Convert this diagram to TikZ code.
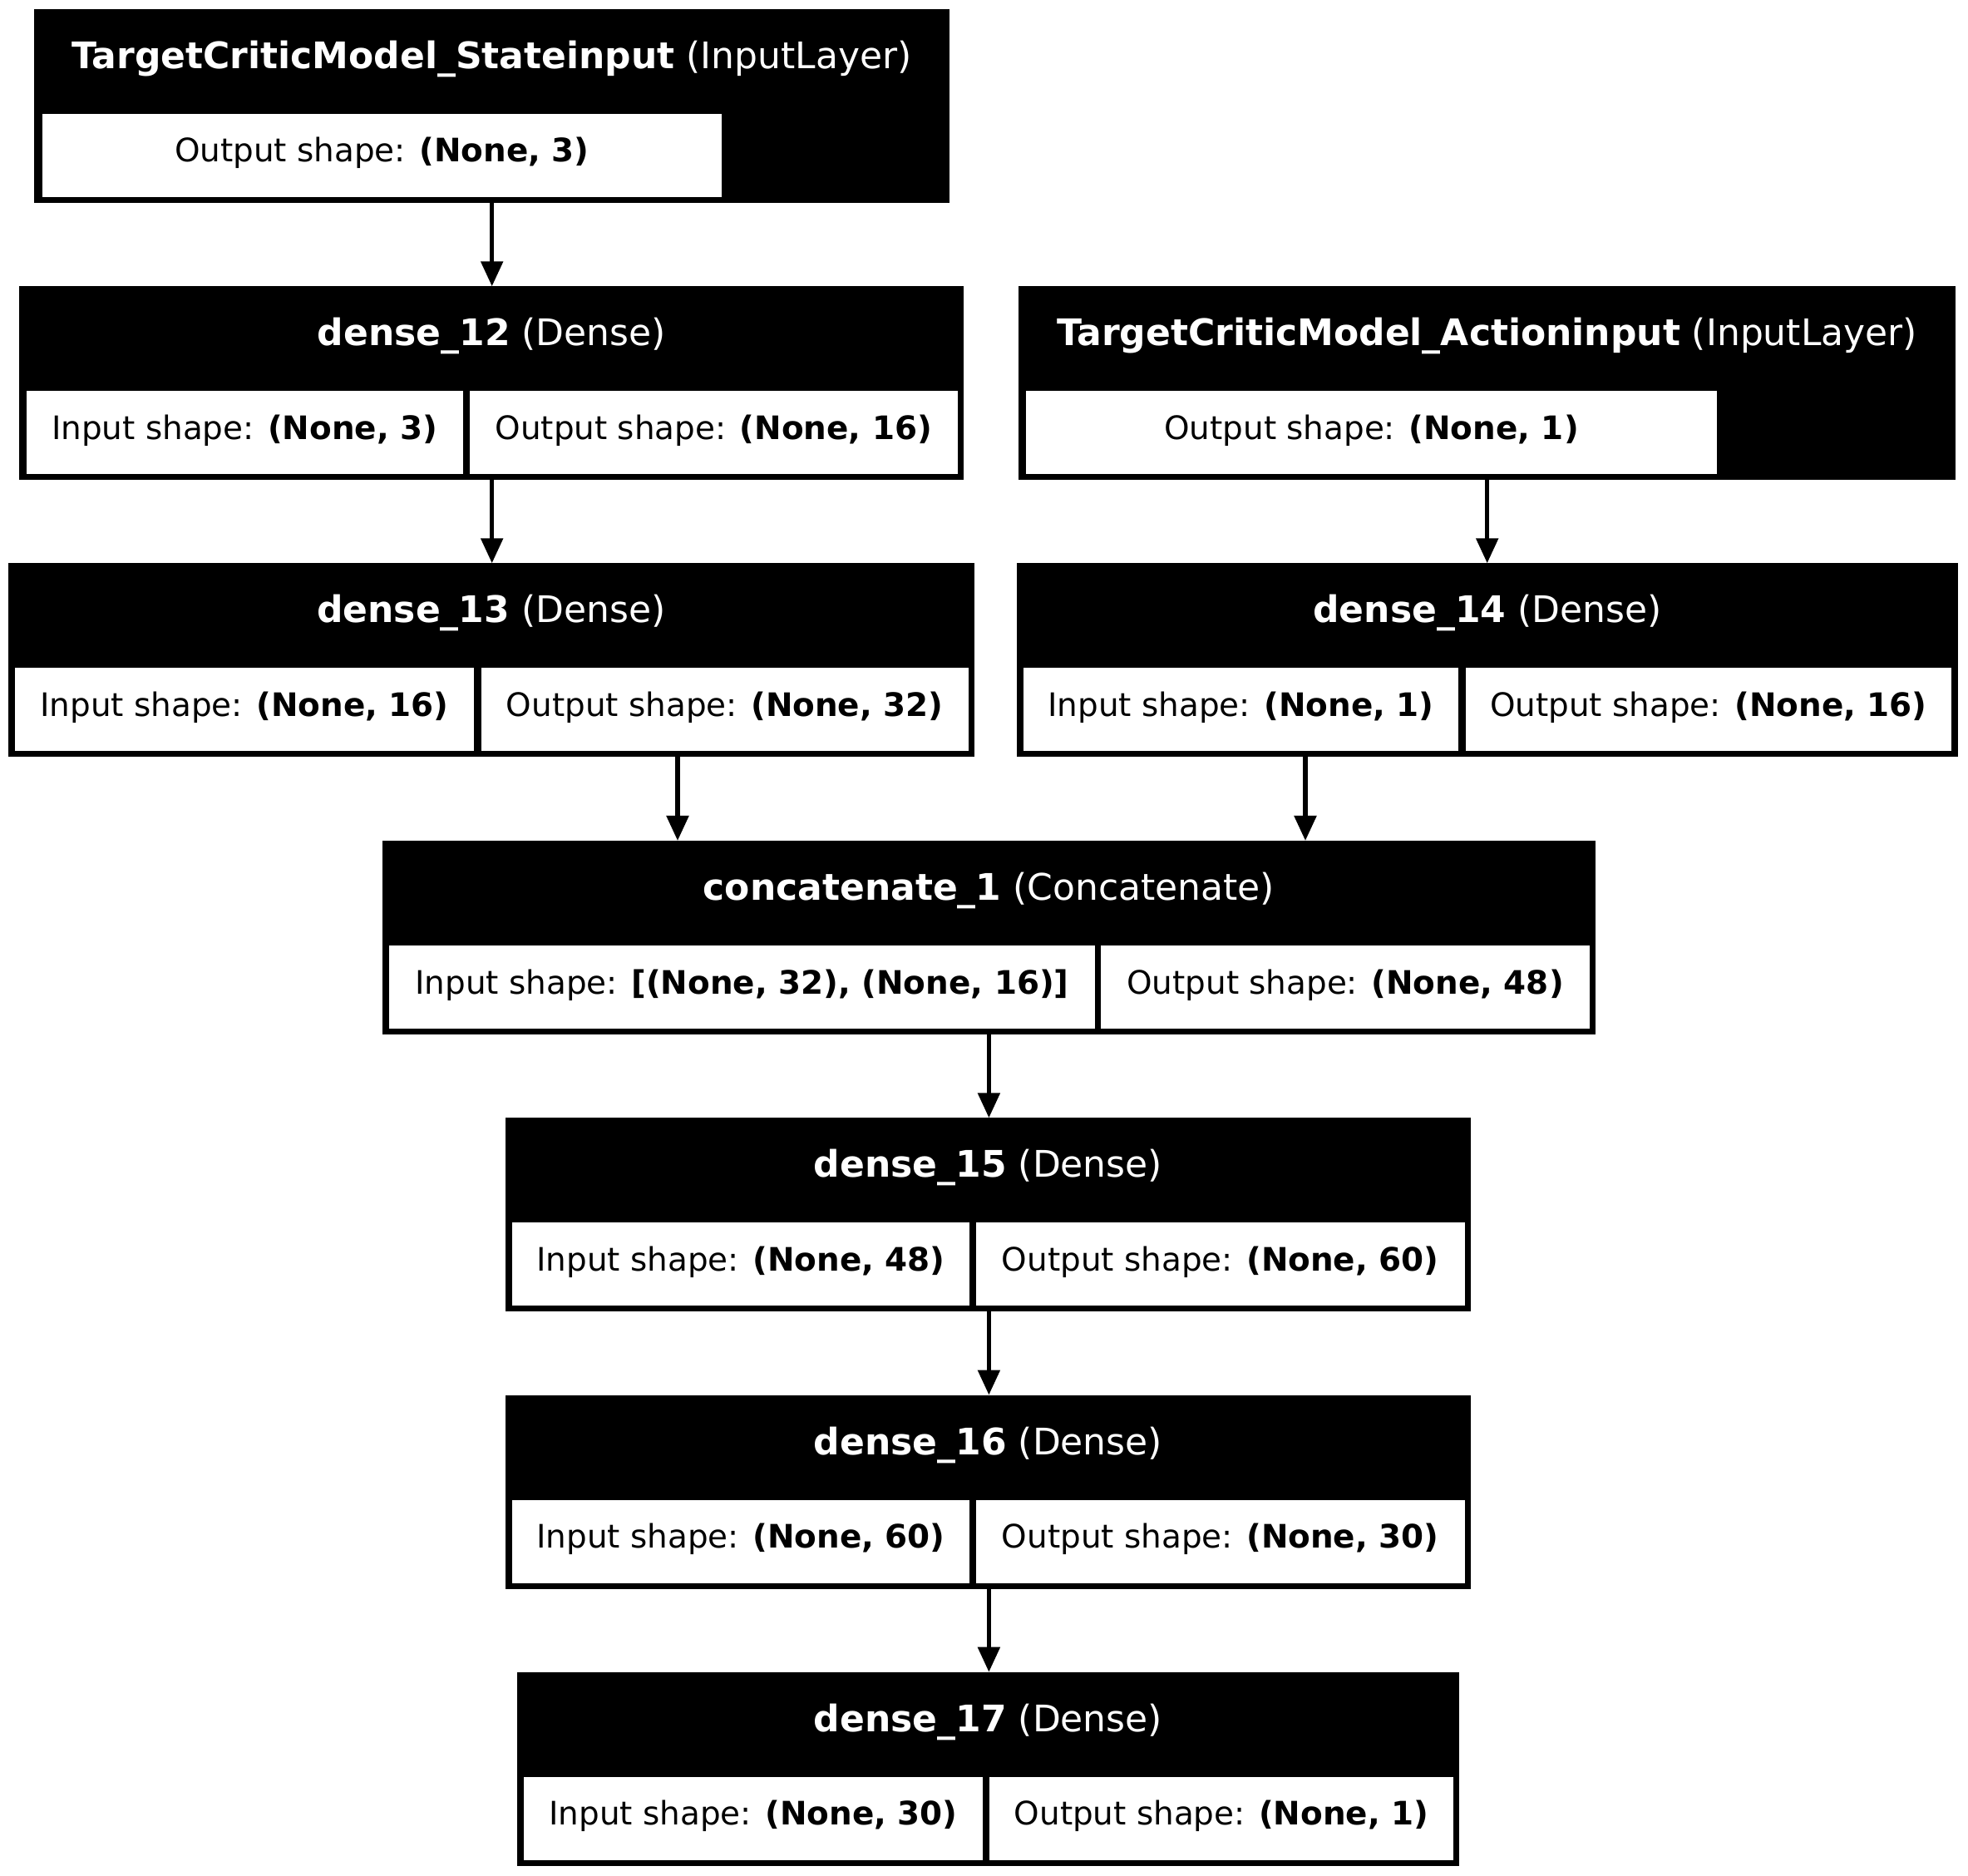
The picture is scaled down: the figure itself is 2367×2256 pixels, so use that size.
\documentclass[tikz,border=0pt]{standalone}
\usepackage{fontspec}
\setmainfont{DejaVu Sans}
\usetikzlibrary{arrows.meta,calc}
\tikzset{
  boxbg/.style={fill=black, draw=none, inner sep=0pt, outer sep=0pt, anchor=north west},
  cellbg/.style={fill=white, draw=none, inner sep=0pt, outer sep=0pt, anchor=north west},
  headtext/.style={text=white, font=\fontsize{11}{13}\selectfont, inner sep=0pt, anchor=base},
  celltext/.style={text=black, font=\fontsize{9.72}{12}\selectfont, inner sep=0pt, anchor=base},
  arr/.style={line width=1.33pt, -{Triangle[length=7.5pt,width=6.5pt]}},
}
% #1 name, #2 left, #3 right, #4 top
\newcommand\mkbox[4]{%
  \node[boxbg, minimum width={(#3-#2)*0.25pt}, minimum height={233*0.25pt}] (#1) at (#2,#4) {};
}
% #1 name, #2 left, #3 right, #4 box top, #5 text
\newcommand\mkcell[5]{%
  \node[cellbg, minimum width={(#3-#2)*0.25pt}, minimum height={100*0.25pt}] (#1) at (#2,#4+126) {};
  \node[celltext] (#1-t) at ({(#2+#3)/2},#4+184) {#5};
}
% #1 name, #2 center x, #3 top, #4 text
\newcommand\mkhead[4]{%
  \node[headtext] (#1) at (#2,#3+71.5) {#4};
}
\begin{document}
\begin{tikzpicture}[x=0.25pt, y=-0.25pt]
\fill[white] (0,0) rectangle (2367,2256);
\useasboundingbox (0,0) rectangle (2367,2256);

% TargetCriticModel_Stateinput
\mkbox{sin}{41.3}{1141.7}{11}
\mkhead{sin-h}{591.5}{11}{\textbf{TargetCriticModel\_Stateinput} (InputLayer)}
\mkcell{sin-o}{51}{867.7}{11}{Output shape: \textbf{(None, 3)}}

% dense_12
\mkbox{d12}{23.3}{1159.3}{344.3}
\mkhead{d12-h}{591.3}{344.3}{\textbf{dense\_12} (Dense)}
\mkcell{d12-i}{31.7}{556.7}{344.3}{Input shape: \textbf{(None, 3)}}
\mkcell{d12-o}{565}{1151.7}{344.3}{Output shape: \textbf{(None, 16)}}

% TargetCriticModel_Actioninput
\mkbox{ain}{1225}{2352}{344.3}
\mkhead{ain-h}{1788.5}{344.3}{\textbf{TargetCriticModel\_Actioninput} (InputLayer)}
\mkcell{ain-o}{1234}{2065}{344.3}{Output shape: \textbf{(None, 1)}}

% dense_13
\mkbox{d13}{9.6}{1172}{677.3}
\mkhead{d13-h}{590.8}{677.3}{\textbf{dense\_13} (Dense)}
\mkcell{d13-i}{18}{570}{677.3}{Input shape: \textbf{(None, 16)}}
\mkcell{d13-o}{579}{1164.5}{677.3}{Output shape: \textbf{(None, 32)}}

% dense_14
\mkbox{d14}{1222.8}{2355}{677.3}
\mkhead{d14-h}{1788.9}{677.3}{\textbf{dense\_14} (Dense)}
\mkcell{d14-i}{1231}{1754}{677.3}{Input shape: \textbf{(None, 1)}}
\mkcell{d14-o}{1762.7}{2347}{677.3}{Output shape: \textbf{(None, 16)}}

% concatenate_1
\mkbox{cat}{459.5}{1919.3}{1011}
\mkhead{cat-h}{1189.4}{1011}{\textbf{concatenate\_1} (Concatenate)}
\mkcell{cat-i}{468}{1317}{1011}{Input shape: \textbf{[(None, 32), (None, 16)]}}
\mkcell{cat-o}{1324}{1912}{1011}{Output shape: \textbf{(None, 48)}}

% dense_15
\mkbox{d15}{608}{1769}{1344.3}
\mkhead{d15-h}{1188.5}{1344.3}{\textbf{dense\_15} (Dense)}
\mkcell{d15-i}{616}{1166}{1344.3}{Input shape: \textbf{(None, 48)}}
\mkcell{d15-o}{1174}{1761.5}{1344.3}{Output shape: \textbf{(None, 60)}}

% dense_16
\mkbox{d16}{608}{1769}{1677.5}
\mkhead{d16-h}{1188.5}{1677.5}{\textbf{dense\_16} (Dense)}
\mkcell{d16-i}{616}{1166}{1677.5}{Input shape: \textbf{(None, 60)}}
\mkcell{d16-o}{1174}{1761.5}{1677.5}{Output shape: \textbf{(None, 30)}}

% dense_17
\mkbox{d17}{621.7}{1755.4}{2010.7}
\mkhead{d17-h}{1188.5}{2010.7}{\textbf{dense\_17} (Dense)}
\mkcell{d17-i}{630}{1182}{2010.7}{Input shape: \textbf{(None, 30)}}
\mkcell{d17-o}{1190}{1748}{2010.7}{Output shape: \textbf{(None, 1)}}

% connectors
\coordinate (xa) at (591.7,0);
\coordinate (xc) at (1788.7,0);
\coordinate (xd) at (815,0);
\coordinate (xe) at (1570,0);
\coordinate (xf) at (1189.4,0);
\draw[arr] (sin.south -| xa) -- (d12.north -| xa);
\draw[arr] (d12.south -| xa) -- (d13.north -| xa);
\draw[arr] (ain.south -| xc) -- (d14.north -| xc);
\draw[arr] (d13.south -| xd) -- (cat.north -| xd);
\draw[arr] (d14.south -| xe) -- (cat.north -| xe);
\draw[arr] (cat.south -| xf) -- (d15.north -| xf);
\draw[arr] (d15.south -| xf) -- (d16.north -| xf);
\draw[arr] (d16.south -| xf) -- (d17.north -| xf);
\end{tikzpicture}
\end{document}
